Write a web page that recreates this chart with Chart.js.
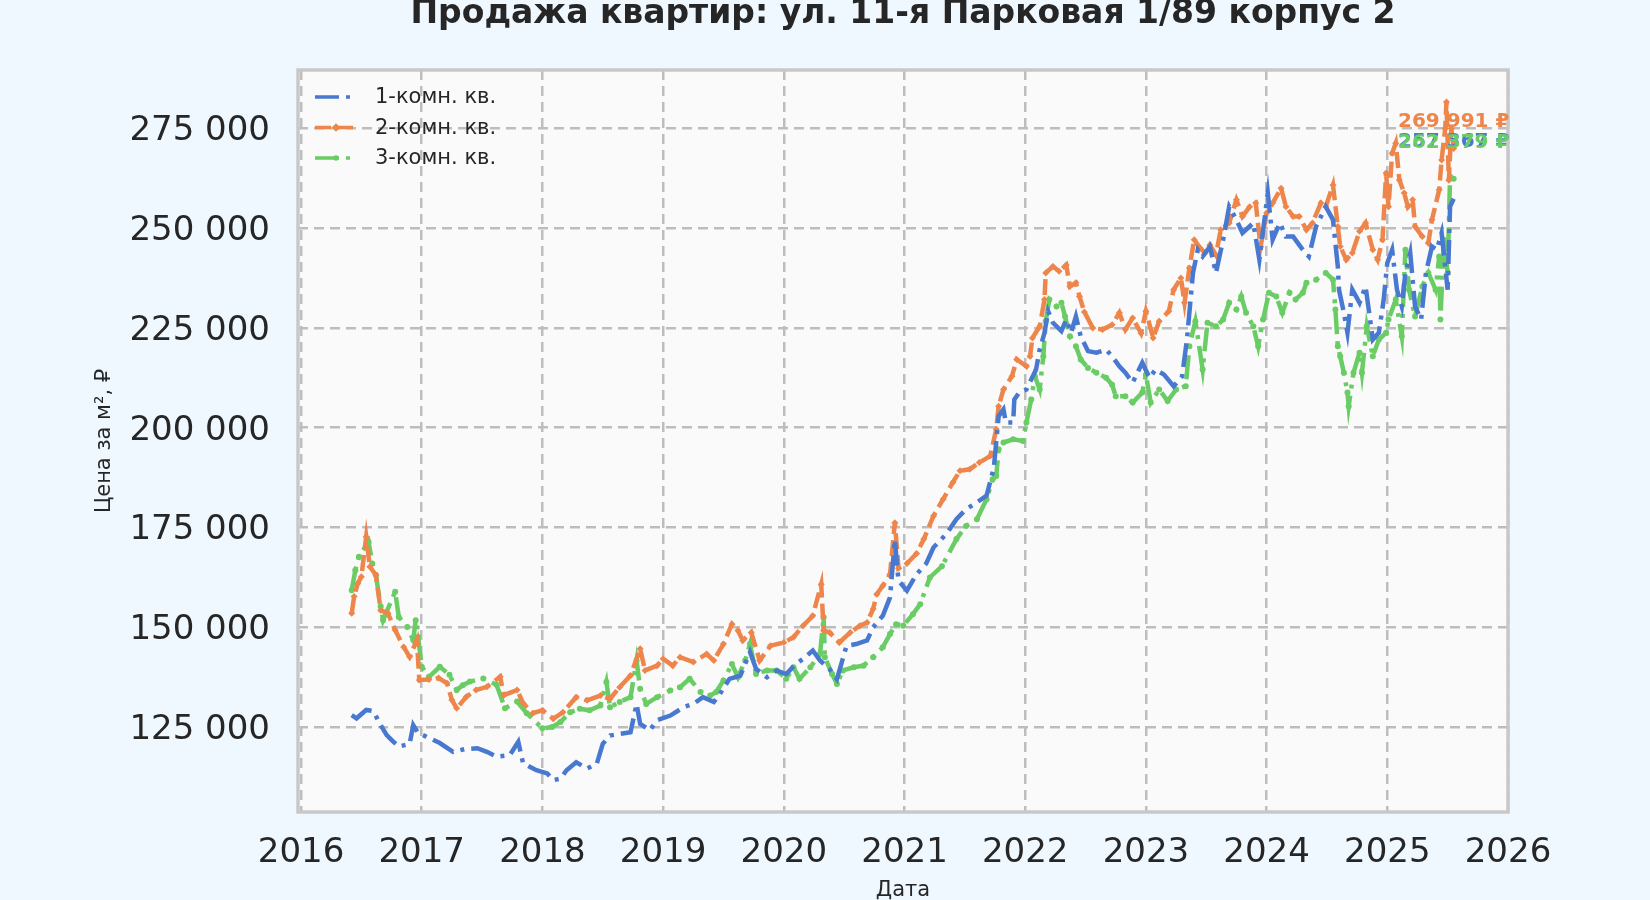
<!DOCTYPE html>
<html>
<head>
<meta charset="utf-8">
<script src="https://cdn.jsdelivr.net/npm/chart.js@4.4.0/dist/chart.umd.min.js"></script>
<style>
  html, body { margin: 0; padding: 0; background: #f0f8ff; }
  #wrap { width: 1650px; height: 900px; }
</style>
</head>
<body>
<div id="wrap"><canvas id="lineChart"></canvas></div>
<script>
// axis ticks
const xTicks = [2016, 2017, 2018, 2019, 2020, 2021, 2022, 2023, 2024, 2025, 2026];
const yTicks = [125000, 150000, 175000, 200000, 225000, 250000, 275000];

const labels = ["1-комн. кв.", "2-комн. кв.", "3-комн. кв."];
const colors = ["#4878d0", "#ee854a", "#6acc64"];

// [год (дробный), цена за м²]
const series1k = [
  [2016.42, 128000], [2016.46, 127200], [2016.54, 129300], [2016.60, 129000], [2016.65, 126000],
  [2016.71, 123000], [2016.76, 121500], [2016.81, 120100], [2016.90, 120800], [2016.93, 125500],
  [2016.97, 123500], [2017.04, 122600], [2017.15, 121000], [2017.26, 118800], [2017.36, 119500],
  [2017.46, 119700], [2017.54, 118800], [2017.62, 117600], [2017.73, 118000], [2017.80, 121300],
  [2017.84, 115900], [2017.95, 114200], [2018.04, 113400], [2018.09, 111700], [2018.15, 112100],
  [2018.20, 114200], [2018.28, 116200], [2018.37, 114600], [2018.45, 115800], [2018.50, 120800],
  [2018.56, 122900], [2018.64, 123300], [2018.73, 123700], [2018.78, 130800], [2018.81, 125800],
  [2018.89, 124200], [2018.95, 126700], [2019.06, 127900], [2019.17, 130000], [2019.25, 130800],
  [2019.33, 132500], [2019.42, 131300], [2019.47, 133300], [2019.55, 137100], [2019.64, 137900],
  [2019.72, 143800], [2019.77, 139600], [2019.86, 137500], [2019.94, 139200], [2020.02, 138300],
  [2020.10, 140800], [2020.16, 142100], [2020.24, 144200], [2020.30, 141700], [2020.38, 139500],
  [2020.44, 137000], [2020.52, 145400], [2020.60, 145800], [2020.69, 146700], [2020.74, 150000],
  [2020.82, 152900], [2020.88, 157500], [2020.92, 172000], [2020.95, 161700], [2021.02, 159200],
  [2021.10, 163300], [2021.18, 166000], [2021.24, 170000], [2021.35, 173500], [2021.43, 177100],
  [2021.51, 179600], [2021.60, 181300], [2021.68, 183000], [2021.74, 190000], [2021.78, 202900],
  [2021.82, 204600], [2021.84, 201300], [2021.90, 201300], [2021.91, 207100], [2021.95, 208800],
  [2022.01, 209600], [2022.05, 212100], [2022.09, 214600], [2022.12, 219600], [2022.16, 223800],
  [2022.19, 229200], [2022.23, 226300], [2022.30, 224200], [2022.34, 227100], [2022.38, 223800],
  [2022.42, 227900], [2022.46, 222900], [2022.52, 219200], [2022.59, 218800], [2022.67, 219600],
  [2022.72, 217900], [2022.78, 215400], [2022.83, 213800], [2022.89, 211300], [2022.97, 216300],
  [2023.03, 212500], [2023.08, 214600], [2023.15, 213300], [2023.23, 210400], [2023.30, 212900],
  [2023.34, 222100], [2023.39, 238800], [2023.43, 244600], [2023.47, 242900], [2023.53, 245400],
  [2023.58, 238800], [2023.64, 247100], [2023.69, 255400], [2023.75, 252100], [2023.80, 248800],
  [2023.89, 251300], [2023.94, 242100], [2024.01, 258800], [2024.05, 247100], [2024.11, 251300],
  [2024.16, 247900], [2024.22, 247900], [2024.30, 244600], [2024.35, 242900], [2024.41, 250400],
  [2024.49, 255400], [2024.55, 252100], [2024.59, 240400], [2024.60, 234600], [2024.64, 228800],
  [2024.67, 223800], [2024.71, 234600], [2024.77, 231300], [2024.82, 235400], [2024.88, 222100],
  [2024.93, 223800], [2024.97, 232100], [2025.00, 241300], [2025.04, 244600], [2025.08, 234600],
  [2025.12, 230400], [2025.15, 238800], [2025.19, 243800], [2025.23, 230400], [2025.28, 227100],
  [2025.32, 238800], [2025.37, 245400], [2025.41, 244600], [2025.45, 248800], [2025.50, 234600],
  [2025.52, 255400], [2025.55, 257367],
];

const series2k = [
  [2016.42, 153500], [2016.44, 157700], [2016.47, 161000], [2016.50, 162700], [2016.54, 172700],
  [2016.57, 165200], [2016.62, 163100], [2016.66, 154300], [2016.72, 153500], [2016.78, 149300],
  [2016.85, 145100], [2016.90, 142600], [2016.96, 146800], [2016.98, 136800], [2017.06, 136900],
  [2017.14, 137300], [2017.21, 136000], [2017.25, 131800], [2017.29, 129700], [2017.37, 132600],
  [2017.45, 134300], [2017.54, 135100], [2017.65, 137600], [2017.68, 133000], [2017.79, 134300],
  [2017.84, 131000], [2017.92, 128500], [2018.00, 129200], [2018.09, 127100], [2018.17, 128700],
  [2018.28, 132500], [2018.37, 131700], [2018.48, 132900], [2018.56, 132100], [2018.64, 135000],
  [2018.73, 137900], [2018.81, 144600], [2018.85, 139200], [2018.95, 140400], [2019.00, 142100],
  [2019.08, 140400], [2019.14, 142500], [2019.25, 141300], [2019.36, 143300], [2019.42, 141700],
  [2019.50, 145800], [2019.57, 150800], [2019.62, 149200], [2019.66, 146700], [2019.73, 148700],
  [2019.80, 141700], [2019.89, 145400], [2020.00, 146200], [2020.08, 147500], [2020.16, 150400],
  [2020.24, 152900], [2020.31, 160800], [2020.33, 149200], [2020.38, 148700], [2020.46, 146200],
  [2020.55, 148700], [2020.63, 150400], [2020.69, 151200], [2020.74, 154600], [2020.77, 158300],
  [2020.82, 160400], [2020.88, 163300], [2020.92, 176200], [2020.95, 164800], [2021.02, 166000],
  [2021.10, 168500], [2021.16, 172100], [2021.24, 177900], [2021.32, 182100], [2021.40, 186300],
  [2021.46, 189200], [2021.54, 189600], [2021.62, 191300], [2021.71, 192900], [2021.76, 199600],
  [2021.78, 205400], [2021.82, 209600], [2021.89, 212900], [2021.93, 217100], [2022.01, 215400],
  [2022.04, 217900], [2022.06, 222500], [2022.12, 225400], [2022.16, 232100], [2022.17, 238800],
  [2022.23, 240400], [2022.28, 239200], [2022.34, 240800], [2022.37, 235400], [2022.42, 236300],
  [2022.45, 232900], [2022.49, 229000], [2022.56, 225000], [2022.64, 224600], [2022.72, 225800],
  [2022.78, 228800], [2022.83, 224600], [2022.89, 227500], [2022.96, 223700], [2023.00, 229200],
  [2023.06, 222500], [2023.11, 226700], [2023.19, 229200], [2023.23, 234600], [2023.29, 237500],
  [2023.32, 231300], [2023.36, 240000], [2023.40, 247100], [2023.45, 245000], [2023.49, 243800],
  [2023.53, 245800], [2023.58, 243300], [2023.62, 249600], [2023.69, 251300], [2023.75, 257100],
  [2023.80, 252900], [2023.86, 255400], [2023.91, 256300], [2023.95, 245400], [2024.00, 253800],
  [2024.05, 256300], [2024.12, 260000], [2024.16, 255400], [2024.22, 252900], [2024.27, 252900],
  [2024.33, 249600], [2024.38, 251300], [2024.45, 256300], [2024.49, 255400], [2024.55, 260800],
  [2024.59, 250400], [2024.61, 245400], [2024.66, 242100], [2024.71, 243800], [2024.77, 249200],
  [2024.82, 251300], [2024.88, 244600], [2024.92, 242100], [2024.96, 247100], [2024.99, 263800],
  [2025.01, 255400], [2025.04, 268800], [2025.07, 271300], [2025.10, 262100], [2025.14, 258800],
  [2025.17, 255400], [2025.21, 257100], [2025.23, 250400], [2025.29, 247900], [2025.34, 246300],
  [2025.37, 252100], [2025.43, 259600], [2025.45, 267100], [2025.48, 275000], [2025.49, 281600],
  [2025.51, 262000], [2025.53, 275000], [2025.55, 269991],
];

const series3k = [
  [2016.42, 159300], [2016.45, 164300], [2016.48, 167700], [2016.56, 171400], [2016.59, 166000],
  [2016.62, 163100], [2016.66, 155200], [2016.68, 151800], [2016.78, 158900], [2016.81, 152600],
  [2016.88, 150100], [2016.93, 146800], [2016.95, 151800], [2016.97, 147600], [2017.00, 140100],
  [2017.06, 137600], [2017.15, 140100], [2017.23, 138100], [2017.29, 134300], [2017.34, 135500],
  [2017.40, 136400], [2017.51, 137200], [2017.62, 135600], [2017.69, 129700], [2017.79, 131400],
  [2017.87, 128500], [2018.00, 124700], [2018.08, 125000], [2018.15, 126300], [2018.23, 128700],
  [2018.31, 129600], [2018.39, 129200], [2018.48, 130400], [2018.53, 136300], [2018.56, 130000],
  [2018.64, 131300], [2018.73, 132500], [2018.78, 141700], [2018.81, 134600], [2018.86, 130800],
  [2018.95, 132500], [2019.06, 134200], [2019.14, 135000], [2019.22, 137100], [2019.31, 133800],
  [2019.39, 132900], [2019.44, 133800], [2019.50, 136700], [2019.57, 140800], [2019.62, 137500],
  [2019.68, 141700], [2019.72, 145800], [2019.77, 138300], [2019.86, 139200], [2019.94, 139200],
  [2020.02, 137100], [2020.08, 140000], [2020.13, 137100], [2020.22, 140000], [2020.30, 143300],
  [2020.33, 152500], [2020.34, 142500], [2020.40, 138300], [2020.44, 135800], [2020.49, 139200],
  [2020.58, 140000], [2020.66, 140400], [2020.74, 142500], [2020.82, 145000], [2020.88, 148300],
  [2020.93, 150800], [2020.99, 150400], [2021.07, 153300], [2021.13, 155800], [2021.21, 162500],
  [2021.31, 165300], [2021.43, 172100], [2021.51, 175400], [2021.60, 177100], [2021.68, 182100],
  [2021.73, 187100], [2021.76, 187900], [2021.78, 194600], [2021.82, 196300], [2021.90, 197100],
  [2021.98, 196700], [2022.01, 201300], [2022.05, 207100], [2022.08, 212900], [2022.12, 209600],
  [2022.15, 217900], [2022.17, 226700], [2022.20, 232100], [2022.26, 230400], [2022.30, 231300],
  [2022.33, 227900], [2022.37, 222900], [2022.42, 220400], [2022.46, 217100], [2022.52, 215000],
  [2022.59, 213800], [2022.67, 212500], [2022.72, 210800], [2022.75, 207900], [2022.83, 207900],
  [2022.89, 206300], [2022.97, 208800], [2023.00, 213300], [2023.04, 206300], [2023.11, 209600],
  [2023.18, 206700], [2023.25, 209600], [2023.33, 210400], [2023.36, 220400], [2023.41, 226700],
  [2023.47, 214600], [2023.51, 226300], [2023.58, 225400], [2023.64, 227100], [2023.69, 231300],
  [2023.75, 229600], [2023.79, 232900], [2023.83, 228800], [2023.89, 225400], [2023.93, 220400],
  [2023.97, 227100], [2024.02, 233800], [2024.08, 232900], [2024.13, 228800], [2024.19, 233800],
  [2024.24, 232100], [2024.30, 233800], [2024.33, 236300], [2024.41, 237100], [2024.49, 238800],
  [2024.55, 237100], [2024.57, 229600], [2024.59, 220400], [2024.61, 217900], [2024.64, 213800],
  [2024.67, 208800], [2024.68, 205400], [2024.72, 213800], [2024.77, 218800], [2024.79, 213800],
  [2024.83, 225400], [2024.88, 217900], [2024.93, 222100], [2024.99, 223800], [2025.01, 227100],
  [2025.07, 232100], [2025.12, 222900], [2025.15, 244600], [2025.18, 234600], [2025.23, 227900],
  [2025.29, 235400], [2025.34, 238800], [2025.40, 234600], [2025.43, 242900], [2025.44, 227100],
  [2025.47, 247100], [2025.50, 238800], [2025.52, 262900], [2025.55, 262379],
];

const fmt = (v) => String(Math.round(v)).replace(/\B(?=(\d{3})+(?!\d))/g, " ");
const toPoints = (s) => s.map(([x, y]) => ({ x: x, y: y }));

Chart.defaults.font.family = "'DejaVu Sans', sans-serif";
Chart.defaults.color = "#262626";

// фон, рамка, легенда внутри поля и подписи последних значений
const decor = {
  id: "decor",
  beforeDraw(chart) {
    const { ctx, chartArea: a } = chart;
    ctx.save();
    ctx.fillStyle = "#f0f8ff";
    ctx.fillRect(0, 0, chart.width, chart.height);
    ctx.fillStyle = "#fafafa";
    ctx.fillRect(a.left, a.top, a.right - a.left, a.bottom - a.top);
    ctx.restore();
  },
  afterDatasetsDraw(chart) {
    const { ctx, chartArea: a } = chart;
    ctx.save();
    ctx.strokeStyle = "#c8c8c8";
    ctx.lineWidth = 3.5;
    ctx.strokeRect(a.left, a.top, a.right - a.left, a.bottom - a.top);

    // legend
    chart.data.datasets.forEach((ds, i) => {
      const y = a.top + 27 + i * 30.5;
      const x0 = a.left + 17;
      ctx.setLineDash(ds.borderDash);
      ctx.strokeStyle = ds.borderColor;
      ctx.lineWidth = 3.5;
      ctx.beginPath();
      ctx.moveTo(x0, y);
      ctx.lineTo(x0 + 42, y);
      ctx.stroke();
      ctx.setLineDash([]);
      ctx.fillStyle = ds.borderColor;
      const r = ds.pointRadius;
      if (r > 0) {
        const cx = x0 + 21;
        ctx.beginPath();
        if (ds.pointStyle === "rectRot") {
          ctx.moveTo(cx, y - r * 1.2);
          ctx.lineTo(cx + r * 1.2, y);
          ctx.lineTo(cx, y + r * 1.2);
          ctx.lineTo(cx - r * 1.2, y);
          ctx.closePath();
        } else {
          ctx.arc(cx, y, r * 0.9, 0, Math.PI * 2);
        }
        ctx.fill();
      }
      ctx.fillStyle = "#262626";
      ctx.font = "21px 'DejaVu Sans'";
      ctx.textAlign = "left";
      ctx.textBaseline = "middle";
      ctx.fillText(ds.label, x0 + 60, y + 1);
    });

    // last value labels
    const lift = [-57, -27, -36];
    chart.data.datasets.forEach((ds, i) => {
      const meta = chart.getDatasetMeta(i);
      const el = meta.data[meta.data.length - 1];
      const last = ds.data[ds.data.length - 1];
      ctx.font = "bold 20px 'DejaVu Sans'";
      ctx.textAlign = "center";
      ctx.textBaseline = "middle";
      ctx.fillStyle = ds.borderColor;
      ctx.fillText(fmt(last.y) + " ₽", el.x, el.y + lift[i]);
    });
    ctx.restore();
  },
};

const gridStyle = { color: "#bdbdbd", lineWidth: 2.5, drawTicks: false };

new Chart(document.getElementById("lineChart"), {
  type: "line",
  data: {
    datasets: [
      {
        label: labels[0],
        data: toPoints(series1k),
        borderColor: colors[0],
        backgroundColor: colors[0],
        borderWidth: 4.5,
        borderDash: [24, 7, 4, 7],
        pointRadius: 0,
        tension: 0,
      },
      {
        label: labels[1],
        data: toPoints(series2k),
        borderColor: colors[1],
        backgroundColor: colors[1],
        borderWidth: 4.5,
        borderDash: [16, 6],
        pointStyle: "rectRot",
        pointRadius: 3.5,
        pointBorderWidth: 0,
        pointBackgroundColor: colors[1],
        tension: 0,
      },
      {
        label: labels[2],
        data: toPoints(series3k),
        borderColor: colors[2],
        backgroundColor: colors[2],
        borderWidth: 4.5,
        borderDash: [24, 7, 4, 7],
        pointStyle: "circle",
        pointRadius: 3,
        pointBorderWidth: 0,
        pointBackgroundColor: colors[2],
        tension: 0,
      },
    ],
  },
  options: {
    responsive: true,
    maintainAspectRatio: false,
    devicePixelRatio: 1,
    animation: false,
    layout: { padding: { left: 0, right: 142, top: 0, bottom: 0 } },
    scales: {
      x: {
        type: "linear",
        min: 2015.975,
        max: 2026,
        afterBuildTicks: (s) => { s.ticks = xTicks.map((v) => ({ value: v })); },
        afterFit: (s) => { s.height = 88; },
        grid: gridStyle,
        border: { display: false, dash: [10, 6] },
        ticks: {
          font: { size: 34 },
          padding: 21,
          maxRotation: 0,
          autoSkip: false,
          callback: (v) => String(v),
        },
        title: {
          display: true,
          text: "Дата",
          font: { size: 21 },
          padding: { top: 0, bottom: -3 },
        },
      },
      y: {
        type: "linear",
        min: 103730,
        max: 289630,
        afterBuildTicks: (s) => { s.ticks = yTicks.map((v) => ({ value: v })); },
        afterFit: (s) => { s.width = 298; },
        grid: gridStyle,
        border: { display: false, dash: [10, 6] },
        ticks: {
          font: { size: 34 },
          padding: 28,
          labelOffset: 3,
          callback: (v) => fmt(v),
        },
        title: {
          display: true,
          text: "Цена за м², ₽",
          font: { size: 21 },
          padding: { top: 92, bottom: 0 },
        },
      },
    },
    plugins: {
      legend: { display: false },
      tooltip: { enabled: false },
      title: {
        display: true,
        fullSize: false,
        text: "Продажа квартир: ул. 11-я Парковая 1/89 корпус 2",
        color: "#262626",
        font: { size: 33, weight: "bold", lineHeight: 0.8 },
        padding: { top: 1, bottom: 42.6 },
      },
    },
  },
  plugins: [decor],
});
</script>
</body>
</html>
